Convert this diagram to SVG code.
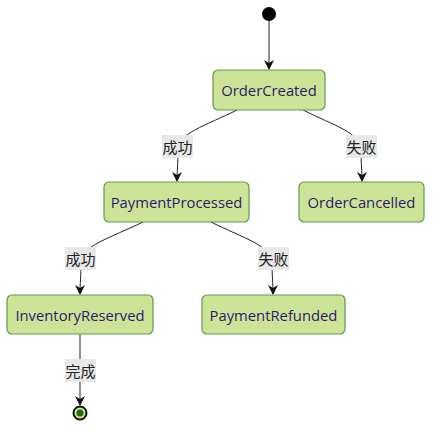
<svg xmlns="http://www.w3.org/2000/svg" width="440" height="436" viewBox="0 0 440 436">
<style>
.node rect{fill:#cde498;stroke:#5f9a4a;stroke-width:1.2}
.node text{font-family:"Open Sans","DejaVu Sans",sans-serif;font-size:14.8px;fill:#2e1a6b;text-anchor:middle;dominant-baseline:central}
.edge{fill:none;stroke:#222;stroke-width:1}
.lbl rect{fill:#e8e8e8}
.lbl text{font-family:"Noto Sans CJK SC",sans-serif;font-size:15px;fill:#222;text-anchor:middle;dominant-baseline:central}
</style>
<defs>
<marker id="arr" viewBox="0 0 10 10" refX="9" refY="5" markerWidth="10" markerHeight="10" markerUnits="userSpaceOnUse" orient="auto">
<path d="M0,0 L10,5 L0,10 L3,5 z" fill="#111"/>
</marker>
</defs>
<g id="connectors">
<path class="edge" d="M269,21 L269,69" marker-end="url(#arr)"/>
<path class="edge" d="M237,110 C205,126 178,133 178,150 C178,165 177,170 177,181" marker-end="url(#arr)"/>
<path class="edge" d="M303,110 C335,126 361,133 361,150 C361,165 362,170 362,181" marker-end="url(#arr)"/>
<path class="edge" d="M143,222 C110,238 81,246 81,262 C81,277 80,282 80,294" marker-end="url(#arr)"/>
<path class="edge" d="M211,222 C243,238 272,246 272,262 C272,277 273,282 273,294" marker-end="url(#arr)"/>
<path class="edge" d="M80,334 L80,405" marker-end="url(#arr)"/>
<g class="lbl"><rect x="162" y="135" width="31" height="23"/><text x="177.5" y="146.5">成功</text></g>
<g class="lbl"><rect x="346" y="135" width="31" height="23"/><text x="361.5" y="146.5">失败</text></g>
<g class="lbl"><rect x="65" y="247" width="31" height="23"/><text x="80.5" y="258.5">成功</text></g>
<g class="lbl"><rect x="258" y="247" width="31" height="23"/><text x="273.5" y="258.5">失败</text></g>
<g class="lbl"><rect x="65" y="359" width="31" height="23"/><text x="80.5" y="370.5">完成</text></g>
</g>
<g id="start"><circle cx="269" cy="14" r="7" fill="#000"/></g>
<g id="OrderCreated" class="node"><rect x="213" y="70" width="112" height="40" rx="5"/><text x="269" y="90">OrderCreated</text></g>
<g id="PaymentProcessed" class="node"><rect x="104" y="182" width="145" height="40" rx="5"/><text x="176.5" y="202">PaymentProcessed</text></g>
<g id="OrderCancelled" class="node"><rect x="299" y="182" width="125" height="40" rx="5"/><text x="361.5" y="202">OrderCancelled</text></g>
<g id="InventoryReserved" class="node"><rect x="7" y="295" width="146" height="39" rx="5"/><text x="80" y="314.5">InventoryReserved</text></g>
<g id="PaymentRefunded" class="node"><rect x="202" y="295" width="143" height="39" rx="5"/><text x="273.5" y="314.5">PaymentRefunded</text></g>
<g id="end"><circle cx="80" cy="413" r="6.5" fill="#cde498" stroke="#111" stroke-width="2"/><circle cx="80" cy="413" r="3.5" fill="#1e6b12"/></g>
</svg>
